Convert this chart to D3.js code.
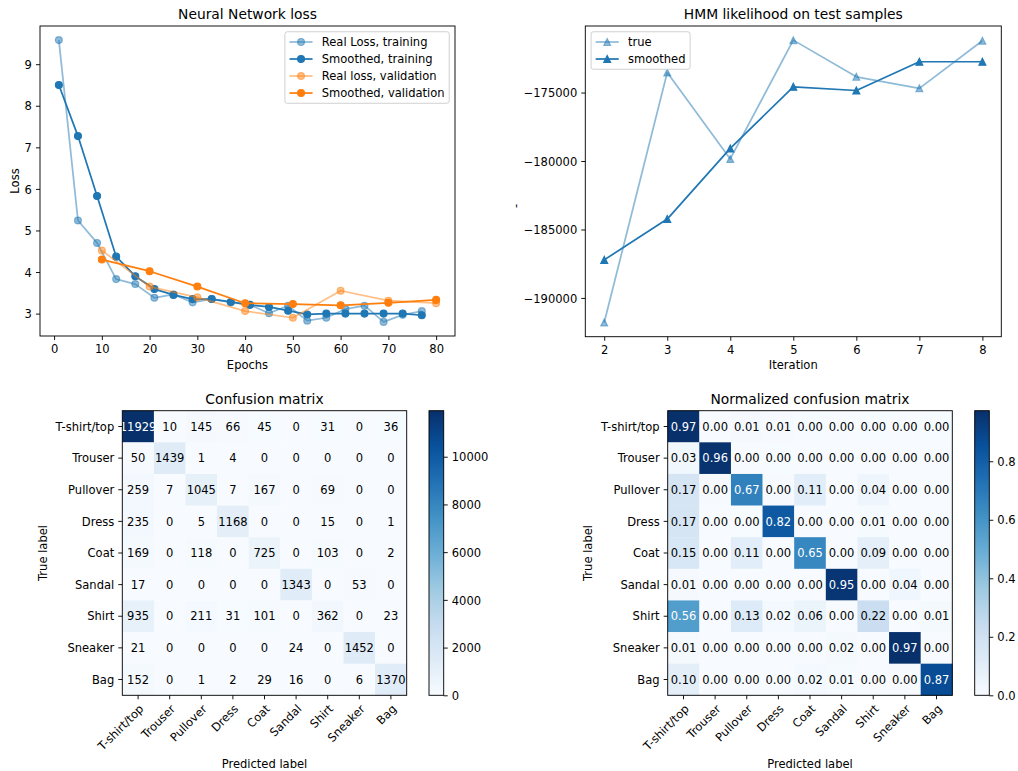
<!DOCTYPE html>
<html><head><meta charset="utf-8">
<script src="https://cdn.jsdelivr.net/npm/d3@7"></script>
<style>
body{margin:0;background:#fff}
</style></head><body>
<svg id="fig" width="1018" height="771"></svg>
<script>
// ---- Neural network loss ----
const trainEpochs = [1, 5, 9, 13, 17, 21, 25, 29, 33, 37, 41, 45, 49, 53, 57, 61, 65, 69, 73, 77];
const trainLoss = [9.58, 5.24, 4.70, 3.83, 3.71, 3.38, 3.46, 3.27, 3.35, 3.27, 3.21, 3.01, 3.19, 2.83, 2.90, 3.11, 3.19, 2.80, 2.97, 3.06];
const trainLossSmoothed = [8.50, 7.27, 5.83, 4.37, 3.90, 3.59, 3.45, 3.35, 3.35, 3.28, 3.21, 3.16, 3.07, 2.98, 3.00, 3.00, 3.00, 3.00, 3.00, 2.96];
const valEpochs = [10, 20, 30, 40, 50, 60, 70, 80];
const valLoss = [4.52, 3.65, 3.39, 3.06, 2.90, 3.55, 3.31, 3.25];
const valLossSmoothed = [4.30, 4.02, 3.65, 3.25, 3.23, 3.20, 3.26, 3.33];
const lossXTicks = [0, 10, 20, 30, 40, 50, 60, 70, 80];
const lossYTicks = [3, 4, 5, 6, 7, 8, 9];

// ---- HMM likelihood ----
const hmmIterations = [2, 3, 4, 5, 6, 7, 8];
const hmmTrue = [-191800, -173540, -179850, -171170, -173850, -174690, -171220];
const hmmSmoothed = [-187220, -184240, -179080, -174580, -174850, -172750, -172750];
const hmmXTicks = [2, 3, 4, 5, 6, 7, 8];
const hmmYTicks = [-190000, -185000, -180000, -175000];

// ---- Confusion matrix ----
const classes = ["T-shirt/top", "Trouser", "Pullover", "Dress", "Coat", "Sandal", "Shirt", "Sneaker", "Bag"];
const confusion = [
  [11929, 10, 145, 66, 45, 0, 31, 0, 36],
  [50, 1439, 1, 4, 0, 0, 0, 0, 0],
  [259, 7, 1045, 7, 167, 0, 69, 0, 0],
  [235, 0, 5, 1168, 0, 0, 15, 0, 1],
  [169, 0, 118, 0, 725, 0, 103, 0, 2],
  [17, 0, 0, 0, 0, 1343, 0, 53, 0],
  [935, 0, 211, 31, 101, 0, 362, 0, 23],
  [21, 0, 0, 0, 0, 24, 0, 1452, 0],
  [152, 0, 1, 2, 29, 16, 0, 6, 1370]
];
const countTicks = [0, 2000, 4000, 6000, 8000, 10000];
const rateTicks = [0, 0.2, 0.4, 0.6, 0.8];

// Blues colour map stops (bottom to top)
const blues = ["#f7fbff", "#deebf7", "#c6dbef", "#9ecae1", "#6baed6", "#4292c6", "#2171b5", "#08519c", "#08306b"];

const W = 1018, H = 771;
const FONT = "'DejaVu Sans', sans-serif";
const PT = 83 / 72;                       // px per point
const FS = 10 * PT, TFS = 12 * PT;
const TICK = 3.5 * PT, PAD = 3.5 * PT, LW = 1.5 * PT, MS = 3 * PT, MEW = 1 * PT, SPINE = 0.8 * PT;
const C0 = "#1f77b4", C1 = "#ff7f0e";

const svg = d3.select("#fig");
svg.append("rect").attr("width", W).attr("height", H).attr("fill", "#fff");
const defs = svg.append("defs");

const lossBox = {x0: 40, x1: 455, y0: 26, y1: 336};
const hmmBox = {x0: 585.3, x1: 1001.3, y0: 26, y1: 336.7};
const cmBox = {x0: 122.3, x1: 406.7, y0: 410.7, y1: 695.3, cb0: 429, cb1: 443.7};
const ncmBox = {x0: 667.7, x1: 952.3, y0: 410.7, y1: 695.3, cb0: 974.7, cb1: 989.3};

function padded(vals) {
  const [a, b] = d3.extent(vals);
  const m = (b - a) * 0.05;
  return [a - m, b + m];
}

function txt(sel) {
  return sel.style("font-family", FONT);
}

function styleAxis(g, orient) {
  g.select(".domain").remove();
  g.attr("font-size", FS).attr("color", "#000");
  g.selectAll(".tick text").style("font-family", FONT);
  g.selectAll(".tick line").attr("stroke-width", SPINE);
  if (orient === "bottom") g.selectAll(".tick text").attr("dy", "0.76em");
  else g.selectAll(".tick text").attr("dy", "0.36em");
}

function frame(box) {
  svg.append("rect").attr("x", box.x0).attr("y", box.y0)
    .attr("width", box.x1 - box.x0).attr("height", box.y1 - box.y0)
    .attr("fill", "none").attr("stroke", "#000").attr("stroke-width", SPINE);
}

function title(box, text) {
  txt(svg.append("text")).attr("x", (box.x0 + box.x1) / 2).attr("y", box.y0 - 6 * PT)
    .attr("text-anchor", "middle").attr("font-size", TFS).attr("fill", "#000").text(text);
}

function xLabel(box, text, y) {
  txt(svg.append("text")).attr("x", (box.x0 + box.x1) / 2).attr("y", y)
    .attr("text-anchor", "middle").attr("font-size", FS).attr("fill", "#000").text(text);
}

function yLabel(x, cy, text) {
  txt(svg.append("text")).attr("transform", `translate(${x},${cy}) rotate(-90)`)
    .attr("text-anchor", "middle").attr("font-size", FS).attr("fill", "#000").text(text);
}

function marker(g, cx, cy, type, color, alpha) {
  const m = type === "tri"
    ? g.append("path").attr("d", `M${cx},${cy - MS}L${cx - MS},${cy + MS}L${cx + MS},${cy + MS}Z`)
    : g.append("circle").attr("cx", cx).attr("cy", cy).attr("r", MS);
  m.attr("fill", color).attr("fill-opacity", alpha)
    .attr("stroke", color).attr("stroke-opacity", alpha).attr("stroke-width", MEW)
    .attr("stroke-linejoin", "miter");
}

function series(xs, ys, x, y, color, alpha, type) {
  const g = svg.append("g");
  const pts = xs.map((v, i) => [v, ys[i]]);
  g.append("path").attr("d", d3.line().x(d => x(d[0])).y(d => y(d[1]))(pts))
    .attr("fill", "none").attr("stroke", color).attr("stroke-width", LW)
    .attr("stroke-opacity", alpha).attr("stroke-linejoin", "round");
  pts.forEach(d => marker(g, x(d[0]), y(d[1]), type, color, alpha));
}

function legend(items, anchorX, top, alignRight) {
  const g = svg.append("g");
  const rowH = 11.25, gap = 0.5 * FS, bp = 0.4 * FS, handle = 2 * FS, tpad = 0.8 * FS;
  const texts = items.map(it => txt(g.append("text")).attr("font-size", FS).attr("fill", "#000").text(it.label));
  const tw = d3.max(texts, t => t.node().getComputedTextLength());
  const w = bp + handle + tpad + tw + bp;
  const h = bp * 2 + items.length * rowH + (items.length - 1) * gap;
  const left = alignRight ? anchorX - w : anchorX;
  g.insert("rect", "text").attr("x", left).attr("y", top).attr("width", w).attr("height", h)
    .attr("rx", 0.2 * FS).attr("fill", "#fff").attr("fill-opacity", 0.8)
    .attr("stroke", "#cccccc").attr("stroke-width", SPINE);
  items.forEach((it, i) => {
    const cy = top + bp + rowH / 2 + i * (rowH + gap);
    const lx0 = left + bp, lx1 = lx0 + handle;
    g.append("line").attr("x1", lx0).attr("x2", lx1).attr("y1", cy).attr("y2", cy)
      .attr("stroke", it.color).attr("stroke-width", LW).attr("stroke-opacity", it.alpha);
    marker(g, (lx0 + lx1) / 2, cy, it.type, it.color, it.alpha);
    texts[i].attr("x", lx1 + tpad).attr("y", cy).attr("dy", "0.36em").raise();
  });
}

// ================= Neural Network loss =================
{
  const x = d3.scaleLinear().domain(padded([...trainEpochs, ...valEpochs])).range([lossBox.x0, lossBox.x1]);
  const y = d3.scaleLinear().domain(padded([...trainLoss, ...trainLossSmoothed, ...valLoss, ...valLossSmoothed]))
    .range([lossBox.y1, lossBox.y0]);
  const gx = svg.append("g").attr("transform", `translate(0,${lossBox.y1})`)
    .call(d3.axisBottom(x).tickValues(lossXTicks).tickSizeInner(TICK).tickSizeOuter(0).tickPadding(PAD).tickFormat(d3.format("d")));
  styleAxis(gx, "bottom");
  const gy = svg.append("g").attr("transform", `translate(${lossBox.x0},0)`)
    .call(d3.axisLeft(y).tickValues(lossYTicks).tickSizeInner(TICK).tickSizeOuter(0).tickPadding(PAD).tickFormat(d3.format("d")));
  styleAxis(gy, "left");

  series(trainEpochs, trainLoss, x, y, C0, 0.5, "o");
  series(trainEpochs, trainLossSmoothed, x, y, C0, 1, "o");
  series(valEpochs, valLoss, x, y, C1, 0.5, "o");
  series(valEpochs, valLossSmoothed, x, y, C1, 1, "o");
  frame(lossBox);
  title(lossBox, "Neural Network loss");
  xLabel(lossBox, "Epochs", lossBox.y1 + 32.5);
  yLabel(18.8, (lossBox.y0 + lossBox.y1) / 2, "Loss");
  legend([
    {label: "Real Loss, training", color: C0, alpha: 0.5, type: "o"},
    {label: "Smoothed, training", color: C0, alpha: 1, type: "o"},
    {label: "Real loss, validation", color: C1, alpha: 0.5, type: "o"},
    {label: "Smoothed, validation", color: C1, alpha: 1, type: "o"}
  ], lossBox.x1 - 0.5 * FS, lossBox.y0 + 0.5 * FS, true);
}

// ================= HMM likelihood =================
{
  const x = d3.scaleLinear().domain(padded(hmmIterations)).range([hmmBox.x0, hmmBox.x1]);
  const y = d3.scaleLinear().domain(padded([...hmmTrue, ...hmmSmoothed])).range([hmmBox.y1, hmmBox.y0]);
  const gx = svg.append("g").attr("transform", `translate(0,${hmmBox.y1})`)
    .call(d3.axisBottom(x).tickValues(hmmXTicks).tickSizeInner(TICK).tickSizeOuter(0).tickPadding(PAD).tickFormat(d3.format("d")));
  styleAxis(gx, "bottom");
  const gy = svg.append("g").attr("transform", `translate(${hmmBox.x0},0)`)
    .call(d3.axisLeft(y).tickValues(hmmYTicks).tickSizeInner(TICK).tickSizeOuter(0).tickPadding(PAD).tickFormat(d3.format("d")));
  styleAxis(gy, "left");

  series(hmmIterations, hmmTrue, x, y, C0, 0.5, "tri");
  series(hmmIterations, hmmSmoothed, x, y, C0, 1, "tri");
  frame(hmmBox);
  title(hmmBox, "HMM likelihood on test samples");
  xLabel(hmmBox, "Iteration", hmmBox.y1 + 32);
  yLabel(520.4, 206, "-");
  legend([
    {label: "true", color: C0, alpha: 0.5, type: "tri"},
    {label: "smoothed", color: C0, alpha: 1, type: "tri"}
  ], hmmBox.x0 + 0.5 * FS, hmmBox.y0 + 0.5 * FS, false);
}

// ================= Confusion matrices =================
function heatmap(box, matrix, fmt, cbTicks, cbFmt, name, gradId, labelX) {
  const vmax = d3.max(matrix.flat());
  const color = d3.scaleLinear().domain(blues.map((c, i) => vmax * i / (blues.length - 1)))
    .range(blues).interpolate(d3.interpolateRgb).clamp(true);
  const xb = d3.scaleBand().domain(d3.range(classes.length)).range([box.x0, box.x1]);
  const yb = d3.scaleBand().domain(d3.range(classes.length)).range([box.y0, box.y1]);

  const cells = svg.append("g");
  matrix.forEach((row, i) => row.forEach((v, j) => {
    cells.append("rect").attr("x", xb(j)).attr("y", yb(i))
      .attr("width", xb.bandwidth() + 0.3).attr("height", yb.bandwidth() + 0.3)
      .attr("fill", color(v));
  }));
  const thresh = vmax / 2;
  matrix.forEach((row, i) => row.forEach((v, j) => {
    txt(cells.append("text")).attr("x", xb(j) + xb.bandwidth() / 2).attr("y", yb(i) + yb.bandwidth() / 2)
      .attr("dy", "0.36em").attr("text-anchor", "middle").attr("font-size", FS)
      .attr("fill", v > thresh ? "#fff" : "#000").text(fmt(v));
  }));
  frame(box);

  const gx = svg.append("g").attr("transform", `translate(0,${box.y1})`)
    .call(d3.axisBottom(xb).tickSizeInner(TICK).tickSizeOuter(0).tickPadding(PAD).tickFormat(i => classes[i]));
  styleAxis(gx, "bottom");
  gx.selectAll(".tick text")
    .attr("transform", `translate(0,${TICK + PAD}) rotate(-45)`)
    .attr("x", 0).attr("y", 0).attr("dy", "0.76em").attr("text-anchor", "end");
  const gy = svg.append("g").attr("transform", `translate(${box.x0},0)`)
    .call(d3.axisLeft(yb).tickSizeInner(TICK).tickSizeOuter(0).tickPadding(PAD).tickFormat(i => classes[i]));
  styleAxis(gy, "left");

  // colour bar
  const grad = defs.append("linearGradient").attr("id", gradId)
    .attr("x1", 0).attr("y1", 1).attr("x2", 0).attr("y2", 0);
  blues.forEach((c, i) => grad.append("stop").attr("offset", i / (blues.length - 1)).attr("stop-color", c));
  const cbBox = {x0: box.cb0, x1: box.cb1, y0: box.y0, y1: box.y1};
  svg.append("rect").attr("x", cbBox.x0).attr("y", cbBox.y0)
    .attr("width", cbBox.x1 - cbBox.x0).attr("height", cbBox.y1 - cbBox.y0)
    .attr("fill", `url(#${gradId})`);
  frame(cbBox);
  const cs = d3.scaleLinear().domain([0, vmax]).range([box.y1, box.y0]);
  const gc = svg.append("g").attr("transform", `translate(${cbBox.x1},0)`)
    .call(d3.axisRight(cs).tickValues(cbTicks).tickSizeInner(TICK).tickSizeOuter(0).tickPadding(PAD).tickFormat(cbFmt));
  styleAxis(gc, "right");

  title(box, name);
  xLabel(box, "Predicted label", 767.5);
  yLabel(labelX, (box.y0 + box.y1) / 2, "True label");
}

const normalized = confusion.map(r => { const s = d3.sum(r); return r.map(v => v / s); });

heatmap(cmBox, confusion, d3.format("d"), countTicks, d3.format("d"), "Confusion matrix", "bluesA", 47);
heatmap(ncmBox, normalized, d3.format(".2f"), rateTicks, d3.format(".1f"), "Normalized confusion matrix", "bluesB", 592);
</script>
</body></html>
